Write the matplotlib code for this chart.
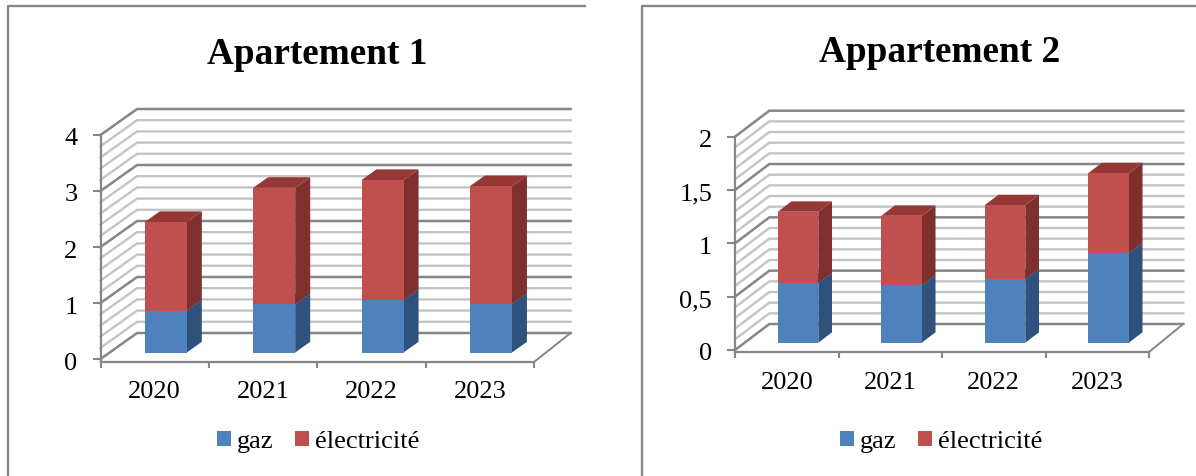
import matplotlib
matplotlib.use('Agg')
import matplotlib.pyplot as plt
from matplotlib.lines import Line2D
from matplotlib.patches import Patch
from matplotlib.transforms import ScaledTranslation

years = ['2020', '2021', '2022', '2023']
series_names = ['gaz', 'électricité']

# values
gaz_1 = [0.75, 0.86, 0.94, 0.87]
elec_1 = [1.58, 2.08, 2.14, 2.10]
gaz_2 = [0.557, 0.538, 0.595, 0.84]
elec_2 = [0.671, 0.652, 0.695, 0.75]

yticks_1 = [0, 1, 2, 3, 4]
yticks_2 = [0, 0.5, 1, 1.5, 2]
ylabels_1 = ['0', '1', '2', '3', '4']
ylabels_2 = ['0', '0,5', '1', '1,5', '2']

W, H = 1196, 476
BLUE = ('#4f81bd', '#2f527c', '#3c6596')
RED = ('#c0504d', '#7f302e', '#953735')
MAJOR = '#868686'
MINOR = '#c4c4c4'

plt.rcParams['font.family'] = ['Liberation Serif', 'DejaVu Serif']

fig = plt.figure(figsize=(W / 100, H / 100), dpi=100)


def draw_panel(x0, x1, y0_px, ytop_px, axis_px, depth_px, lift_px, ymax, minor_step,
               gaz, elec, yticks, ylabels, bar_d, bar_w, bar_shift, tick_pad):
    # x0, x1: x axis in pixels, y0_px / ytop_px: pixels of 0 and of ymax
    per_unit = (y0_px - ytop_px) / ymax
    ymin = -(axis_px - y0_px) / per_unit
    ax = fig.add_axes([x0 / W, 1 - axis_px / H, (x1 - x0) / W, (axis_px - ytop_px) / H])
    ax.set_xlim(0, len(years))
    ax.set_ylim(ymin, ymax)
    ax.patch.set_visible(False)

    cat_px = (x1 - x0) / len(years)
    dx = depth_px / cat_px
    dy = lift_px / per_unit

    def pt(x, y, d):
        return x + d * dx, y + d * dy

    # walls: back lines and the oblique ones on the side wall
    n = int(round(ymax / minor_step))
    for i in range(n + 1):
        v = i * minor_step
        major = any(abs(v - t) < 1e-6 for t in yticks)
        c = MAJOR if major else MINOR
        lw = 1.8 if major else 1.7
        xs, ys = zip(pt(0, v, 0), pt(0, v, 1), pt(len(years), v, 1))
        ax.plot(xs, ys, color=c, lw=lw, zorder=1, clip_on=False, solid_joinstyle='miter')
    xs, ys = zip(pt(len(years), ymin, 0), pt(len(years), 0, 1))
    ax.plot(xs, ys, color=MAJOR, lw=1.4, zorder=1, clip_on=False)

    # stacked bars with a side and a top face
    d0, d1 = bar_d
    for i, (a, b) in enumerate(zip(gaz, elec)):
        left = i + 0.5 - bar_w / 2 + bar_shift
        right = i + 0.5 + bar_w / 2 + bar_shift
        for low, high, cols in ((0, a, BLUE), (a, a + b, RED)):
            front = [pt(left, low, d0), pt(right, low, d0), pt(right, high, d0), pt(left, high, d0)]
            side = [pt(right, low, d0), pt(right, low, d1), pt(right, high, d1), pt(right, high, d0)]
            top = [pt(left, high, d0), pt(right, high, d0), pt(right, high, d1), pt(left, high, d1)]
            ax.fill(*zip(*side), color=cols[1], lw=0, zorder=3, clip_on=False)
            ax.fill(*zip(*top), color=cols[2], lw=0, zorder=3, clip_on=False)
            ax.fill(*zip(*front), color=cols[0], lw=0, zorder=4, clip_on=False)

    for s in ['top', 'right']:
        ax.spines[s].set_visible(False)
    for s in ['left', 'bottom']:
        ax.spines[s].set_color(MAJOR)
        ax.spines[s].set_linewidth(1.6)

    ax.set_yticks(yticks)
    ax.set_yticklabels(ylabels)
    ax.set_xticks(range(len(years) + 1))
    ax.set_xticklabels([])
    ax.set_xticks([i + 0.5 for i in range(len(years))], minor=True)
    ax.set_xticklabels(years, minor=True)
    ax.tick_params(axis='y', length=6, width=1.5, color=MAJOR, labelsize=19, pad=10.5, labelcolor='black')
    ax.tick_params(axis='x', which='major', length=4, width=1.5, color=MAJOR)
    ax.tick_params(axis='x', which='minor', length=0, labelsize=19, pad=tick_pad, labelcolor='black')
    # tick labels sit a little lower than the ticks
    for lab in ax.get_yticklabels():
        lab.set_transform(lab.get_transform() + ScaledTranslation(0, -2 / 100, fig.dpi_scale_trans))
    return ax


draw_panel(100.5, 534, 359, 135, 362, 36.6, 26, 4, 0.2,
           gaz_1, elec_1, yticks_1, ylabels_1, (0.25, 0.66), 0.388, 0.018, 14)
draw_panel(735, 1149, 350, 136.7, 352, 34.3, 26, 2, 0.1,
           gaz_2, elec_2, yticks_2, ylabels_2, (0.28, 0.68), 0.392, 0.016, 14.7)

fig.text(317 / W, 1 - 54 / H, 'Apartement 1', fontsize=26.8, fontweight='bold', ha='center', va='center')
fig.text(939.5 / W, 1 - 53 / H, 'Appartement 2', fontsize=26.8, fontweight='bold', ha='center', va='center')

# frames around the two charts: only left and top show
for xs, ys in (([8, 8, 585], [476, 6, 6]), ([642, 642, 1196], [476, 6, 6])):
    fig.add_artist(Line2D([x / W for x in xs], [1 - y / H for y in ys], color=MAJOR, lw=1.7))

handles = [Patch(color=BLUE[0], lw=0), Patch(color=RED[0], lw=0)]
for cx in (318, 941):
    fig.legend(handles, series_names, loc='center', bbox_to_anchor=(cx / W, 1 - 442 / H), ncols=2,
               frameon=False, fontsize=19, handlelength=0.53, handleheight=0.5, handletextpad=0.23,
               columnspacing=0.8, borderpad=0, borderaxespad=0)

fig.savefig('out.png', dpi=100)
